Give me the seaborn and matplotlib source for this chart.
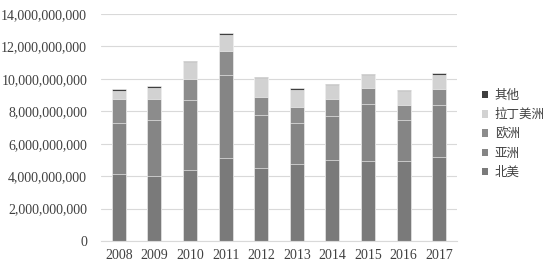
import matplotlib
matplotlib.use("Agg")
import matplotlib.pyplot as plt
import seaborn as sns
import pandas as pd
import numpy as np
from matplotlib.ticker import FuncFormatter
from matplotlib.patches import Patch

years = ["2008", "2009", "2010", "2011", "2012", "2013", "2014", "2015", "2016", "2017"]
north_america = [4.13e9, 4.01e9, 4.38e9, 5.10e9, 4.48e9, 4.73e9, 4.98e9, 4.92e9, 4.92e9, 5.18e9]
asia = [3.13e9, 3.44e9, 4.30e9, 5.16e9, 3.31e9, 2.53e9, 2.71e9, 3.51e9, 2.53e9, 3.19e9]
europe = [1.52e9, 1.33e9, 1.33e9, 1.46e9, 1.11e9, 1.03e9, 1.05e9, 1.03e9, 0.96e9, 1.03e9]
latin_america = [0.49e9, 0.68e9, 1.03e9, 1.01e9, 1.17e9, 1.04e9, 0.88e9, 0.78e9, 0.86e9, 0.84e9]
other = [0.09e9, 0.10e9, 0.06e9, 0.10e9, 0.05e9, 0.11e9, 0.07e9, 0.06e9, 0.05e9, 0.12e9]

series_names = ["北美", "亚洲", "欧洲", "拉丁美洲", "其他"]
series_values = [north_america, asia, europe, latin_america, other]
colors = ["#7a7a7a", "#858585", "#8c8c8c", "#d2d2d2", "#3f3f3f"]

sns.set_theme(style="white")
plt.rcParams['font.family'] = ['serif', 'Noto Sans CJK SC']
plt.rcParams['font.serif'] = ['Liberation Serif', 'DejaVu Serif']

fig = plt.figure(figsize=(5.52, 2.73), dpi=100)
ax = fig.add_axes([0.183, 0.117, 0.645, 0.832])

cum = np.cumsum(np.array(series_values), axis=0)
for i in range(len(series_names) - 1, -1, -1):
    df = pd.DataFrame({"year": years, "value": cum[i]})
    sns.barplot(data=df, x="year", y="value", color=colors[i], width=0.39,
                ax=ax, edgecolor="white", linewidth=0.4, saturation=1)

ax.set_ylim(0, 14e9)
ax.set_yticks(np.arange(0, 14e9 + 1, 2e9))
ax.yaxis.set_major_formatter(FuncFormatter(lambda v, p: f"{int(round(v)):,}"))
ax.grid(axis="y", color="#d9d9d9", linewidth=0.8)
ax.set_axisbelow(True)
for s in ["top", "right", "left"]:
    ax.spines[s].set_visible(False)
ax.spines["bottom"].set_color("#d9d9d9")
ax.spines["bottom"].set_linewidth(0.8)
ax.set_xlabel("")
ax.set_ylabel("")
ax.tick_params(axis="both", length=0, labelsize=10, colors="#404040")
ax.tick_params(axis="y", pad=10)
ax.tick_params(axis="x", pad=6)
for lab in ax.get_xticklabels() + ax.get_yticklabels():
    lab.set_fontfamily(['Liberation Serif', 'DejaVu Serif'])

handles = [Patch(facecolor=colors[i], edgecolor="none", label=series_names[i])
           for i in range(len(series_names) - 1, -1, -1)]
leg = fig.legend(handles=handles, loc="upper left", bbox_to_anchor=(0.852, 0.715),
                 frameon=False, prop={'family': ['Noto Sans CJK SC'], 'size': 9},
                 handlelength=0.55, handleheight=0.55,
                 handletextpad=0.5, labelspacing=0.5, labelcolor="#404040")

fig.savefig("out.png", dpi=100)
